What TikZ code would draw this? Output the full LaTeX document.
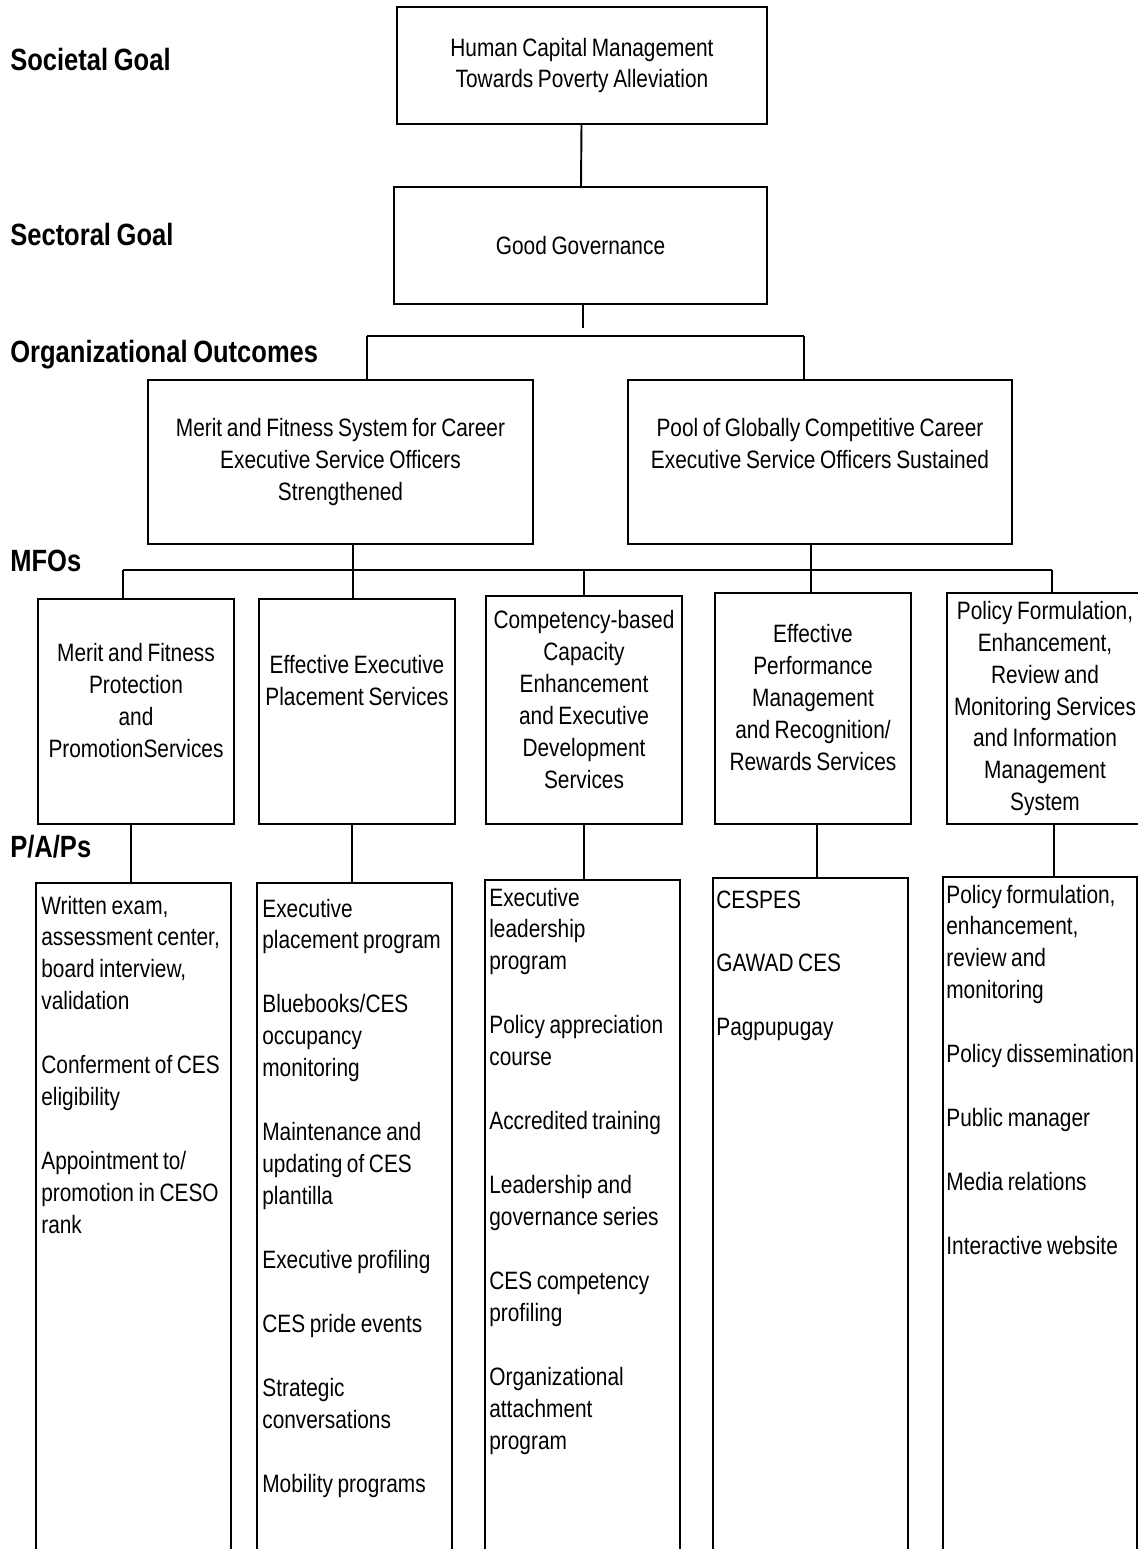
\documentclass[tikz,border=0pt]{standalone}
\usepackage{fontspec}
\setmainfont{Liberation Sans}[FakeStretch=0.83, WordSpace=0.8]
\newcommand{\skipln}{\\[18.2pt]}

\begin{document}
\begin{tikzpicture}[x=0.02cm, y=-0.02cm, every node/.style={font=\fontsize{14.3}{18.2}\selectfont}, box/.style={draw, line width=1.3pt, align=center, inner sep=0pt}, mfo/.style={box, minimum width=3.92cm}, pap/.style={draw, line width=1.3pt, anchor=north, inner sep=0pt, minimum width=3.9cm, minimum height=14cm}, lvl/.style={font=\fontsize{17.5}{21}\selectfont\bfseries, anchor=base west, inner sep=0pt}, item/.style={anchor=base west, inner sep=0pt, text width=3.84cm, align=flush left}, lift/.style={text depth=#1}, conn/.style={line width=1.1pt}]
\useasboundingbox (0,0) rectangle (1138,1549);
\clip (0,0) rectangle (1138,1549);
% level labels
\node[lvl] (societal) at (10,70) {Societal Goal};
\node[lvl] (sectoral) at (10,245) {Sectoral Goal};
\node[lvl] (orgout) at (10,362) {Organizational Outcomes};
\node[lvl] (mfos) at (10,571) {MFOs};
\node[lvl] (paps) at (10,857) {P/A/Ps};
% goals and outcomes
\node[box, minimum width=7.4cm, minimum height=2.34cm] (hcm) at (582,65.5) {Human Capital Management\\Towards Poverty Alleviation};
\node[box, minimum width=7.46cm, minimum height=2.34cm] (gg) at (580.5,245.5) {Good Governance};
\node[box, minimum width=7.7cm, minimum height=3.28cm] (oo1) at (340.5,462) {Merit and Fitness System for Career\\Executive Service Officers\\Strengthened};
\node[box, minimum width=7.68cm, minimum height=3.28cm, lift=0.76cm] (oo2) at (820,462) {Pool of Globally Competitive Career\\Executive Service Officers Sustained};
% MFOs
\node[mfo, minimum height=4.5cm, lift=0.44cm] (mfo1) at (136,711.5) {Merit and Fitness\\Protection\\and\\PromotionServices};
\node[mfo, minimum height=4.5cm, lift=1.24cm] (mfo2) at (357,711.5) {Effective Executive\\Placement Services};
\node[mfo, minimum height=4.56cm, lift=0.44cm] (mfo3) at (584,710) {Competency-based\\Capacity\\Enhancement\\and Executive\\Development\\Services};
\node[mfo, minimum height=4.62cm, lift=0.44cm] (mfo4) at (813,708.5) {Effective\\Performance\\Management\\and Recognition/\\Rewards Services};
\node[mfo, minimum height=4.62cm] (mfo5) at (1045,708.5) {Policy Formulation,\\Enhancement,\\Review and\\Monitoring Services\\and Information\\Management\\System};
% P/A/Ps
\node[pap] (pap1) at (133.5,882) {};
\node[pap] (pap2) at (354.5,882) {};
\node[pap] (pap3) at (582.5,879) {};
\node[pap] (pap4) at (810.5,877) {};
\node[pap, minimum width=3.88cm] (pap5) at (1040,876) {};
\node[item] (pap1txt) at (41,914) {Written exam,\\assessment center,\\board interview,\\validation\skipln Conferment of CES\\eligibility\skipln Appointment to/\\promotion in CESO\\rank};
\node[item] (pap2txt) at (262,917) {Executive\\placement program\skipln Bluebooks/CES\\occupancy\\monitoring\skipln Maintenance and\\updating of CES\\plantilla\skipln Executive profiling\skipln CES pride events\skipln Strategic\\conversations\skipln Mobility programs};
\node[item] (pap3txt) at (489,906) {Executive\\leadership\\program\skipln Policy appreciation\\course\skipln Accredited training\skipln Leadership and\\governance series\skipln CES competency\\profiling\skipln Organizational\\attachment\\program};
\node[item] (pap4txt) at (716,908) {CESPES\skipln GAWAD CES\skipln Pagpupugay};
\node[item] (pap5txt) at (946,903) {Policy formulation,\\enhancement,\\review and\\monitoring\skipln Policy dissemination\skipln Public manager\skipln Media relations\skipln Interactive website};
% connectors
\coordinate (ggfoot) at (583,328); \coordinate (topL) at (367,336); \coordinate (topR) at (804,336);
\coordinate (busL) at (123,570); \coordinate (busR) at (1052,570);
\draw[conn] (hcm) -- (gg); \draw[conn] (gg.south -| ggfoot) -- (ggfoot);
\draw[conn] (topL) -- (topR); \draw[conn] (topL) -- (oo1.north -| topL); \draw[conn] (topR) -- (oo2.north -| topR);
\draw[conn] (busL) -- (busR); \draw[conn] (oo1.south -| 353,0) -- (mfo2.north -| 353,0); \draw[conn] (oo2.south -| 811,0) -- (mfo4.north -| 811,0);
\draw[conn] (busL) -- (mfo1.north -| busL); \draw[conn] (mfo3.north |- busL) -- (mfo3.north); \draw[conn] (busR) -- (mfo5.north -| busR);
\draw[conn] (mfo1.south -| 131,0) -- (pap1.north -| 131,0); \draw[conn] (mfo2.south -| 352,0) -- (pap2.north -| 352,0); \draw[conn] (mfo3.south) -- (mfo3.south |- pap3.north); \draw[conn] (mfo4.south -| 817,0) -- (pap4.north -| 817,0); \draw[conn] (mfo5.south -| 1054,0) -- (pap5.north -| 1054,0);
\end{tikzpicture}
\end{document}
